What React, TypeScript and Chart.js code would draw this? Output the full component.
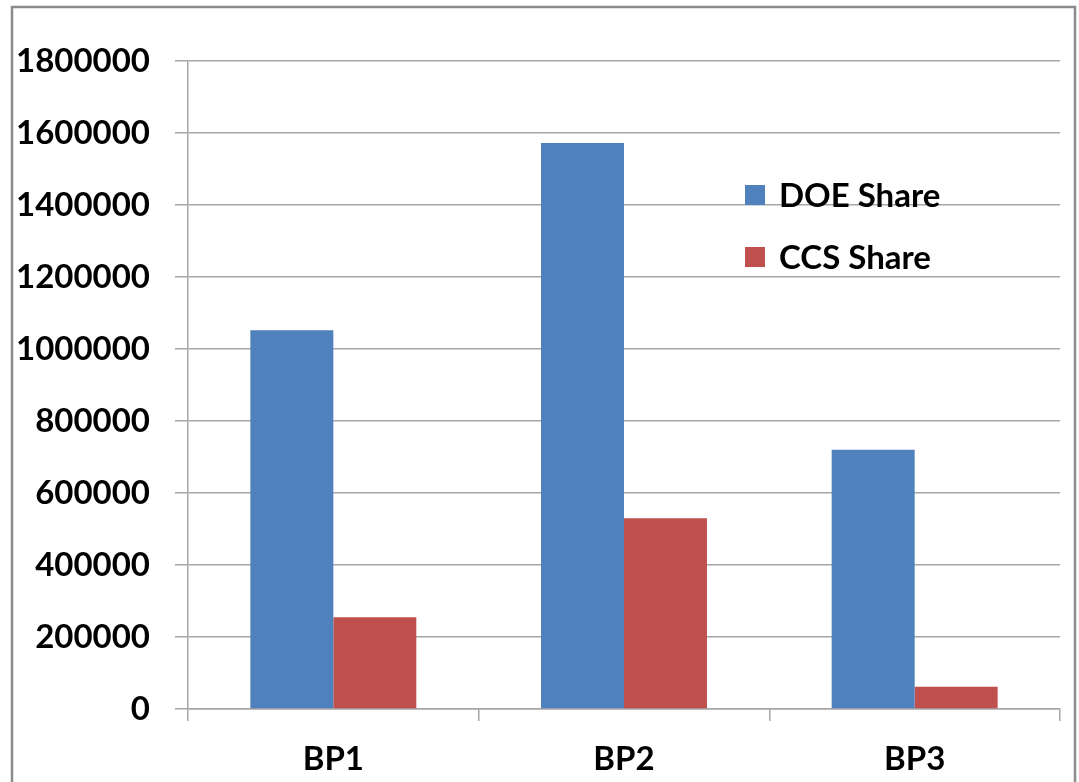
import React, { useEffect, useRef } from "react";
import { Chart, registerables } from "chart.js";

Chart.register(...registerables);

const categories = ["BP1", "BP2", "BP3"];
const doeShare = [1052000, 1572000, 720000];
const ccsShare = [255000, 530000, 62000];
const seriesNames = ["DOE Share", "CCS Share"];
const seriesColors = ["#4F81BD", "#C0504D"];

const FONT = "Lato, 'Open Sans', sans-serif";

const framePlugin = {
  id: "frame",
  beforeDraw(chart: any) {
    const ctx = chart.ctx;
    ctx.save();
    ctx.fillStyle = "#ffffff";
    ctx.fillRect(0, 0, chart.width, chart.height);
    ctx.strokeStyle = "#8c8c8c";
    ctx.lineWidth = 2.5;
    ctx.strokeRect(12, 7, 1063, 820);
    ctx.restore();
  },
};

const innerLegendPlugin = {
  id: "innerLegend",
  afterDraw(chart: any) {
    const ctx = chart.ctx;
    const area = chart.chartArea;
    ctx.save();
    ctx.font = `bold 33px ${FONT}`;
    ctx.textBaseline = "middle";
    ctx.textAlign = "left";
    seriesNames.forEach((name, i) => {
      const y = area.top + 134 + i * 62;
      const x = area.left + 557;
      ctx.fillStyle = seriesColors[i];
      ctx.fillRect(x, y - 10, 20, 20);
      ctx.fillStyle = "#000000";
      ctx.fillText(name, x + 34, y + 1);
    });
    ctx.restore();
  },
};

export default function App() {
  const ref = useRef<HTMLCanvasElement | null>(null);

  useEffect(() => {
    if (!ref.current) return;
    const chart = new Chart(ref.current, {
      type: "bar",
      data: {
        labels: categories,
        datasets: [
          {
            label: seriesNames[0],
            data: doeShare,
            backgroundColor: seriesColors[0],
            barPercentage: 1,
            categoryPercentage: 0.571,
          },
          {
            label: seriesNames[1],
            data: ccsShare,
            backgroundColor: seriesColors[1],
            barPercentage: 1,
            categoryPercentage: 0.571,
          },
        ],
      },
      options: {
        animation: false,
        responsive: false,
        maintainAspectRatio: false,
        layout: { padding: { top: 61, right: 19, left: 0, bottom: 0 } },
        plugins: {
          legend: { display: false },
          tooltip: { enabled: false },
        },
        scales: {
          x: {
            grid: {
              offset: true,
              drawOnChartArea: false,
              drawTicks: true,
              tickLength: 12,
              color: "#a6a6a6",
              lineWidth: 1.5,
            },
            border: { color: "#a6a6a6", width: 1.5 },
            ticks: {
              color: "#000000",
              font: { family: FONT, size: 33, weight: "bold" },
              padding: 19,
            },
            afterFit(scale: any) {
              scale.height = 73;
            },
          },
          y: {
            min: 0,
            max: 1800000,
            grid: {
              color: "#a6a6a6",
              lineWidth: 1.5,
              tickLength: 13,
            },
            border: { color: "#a6a6a6", width: 1.5 },
            ticks: {
              stepSize: 200000,
              color: "#000000",
              font: { family: FONT, size: 33, weight: "bold" },
              padding: 25,
              callback: (v: any) => String(v),
            },
            afterFit(scale: any) {
              scale.width = 188;
            },
          },
        },
      },
      plugins: [framePlugin, innerLegendPlugin],
    });
    return () => chart.destroy();
  }, []);

  return (
    <div style={{ position: "fixed", left: 0, top: 0, width: 1079, height: 782, background: "#fff" }}>
      <canvas ref={ref} width={1079} height={782} style={{ display: "block" }} />
    </div>
  );
}
